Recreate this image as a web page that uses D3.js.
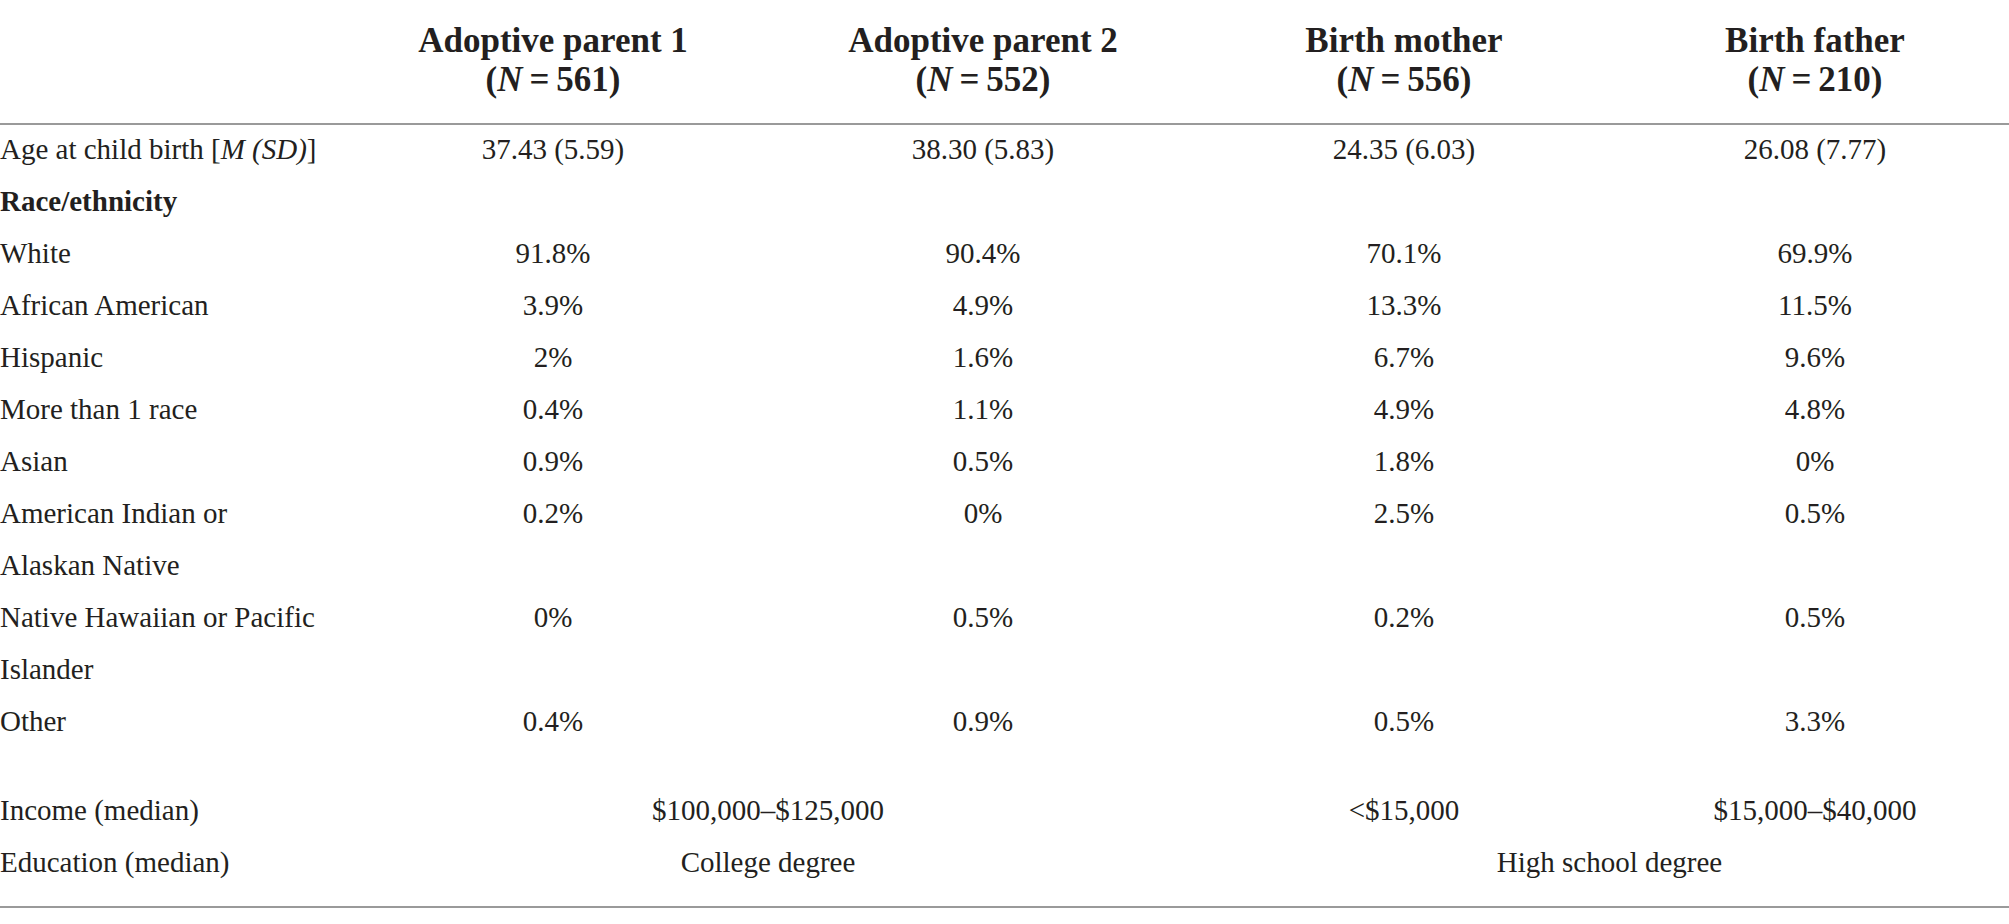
<!DOCTYPE html>
<html>
<head>
<meta charset="utf-8">
<script src="https://cdn.jsdelivr.net/npm/d3@7"></script>
<style>
  body { margin: 0; background: #fff; }
  text { font-family: "Liberation Serif", "Times New Roman", serif; fill: #231f20; }
</style>
</head>
<body>
<div id="table-div"></div>
<script>
// column headers and sample sizes
const groups = ["Adoptive parent 1", "Adoptive parent 2", "Birth mother", "Birth father"];
const sampleSizes = [561, 552, 556, 210];

// row labels (second line of wrapped labels kept as its own row like the source)
const rowLabels = ["Age at child birth", "Race/ethnicity", "White", "African American", "Hispanic",
    "More than 1 race", "Asian", "American Indian or", "Alaskan Native",
    "Native Hawaiian or Pacific", "Islander", "Other"];

// cell values per group, same order as rowLabels ("" = empty)
const adoptive1 = ["37.43 (5.59)", "", "91.8%", "3.9%", "2%", "0.4%", "0.9%", "0.2%", "", "0%", "", "0.4%"];
const adoptive2 = ["38.30 (5.83)", "", "90.4%", "4.9%", "1.6%", "1.1%", "0.5%", "0%", "", "0.5%", "", "0.9%"];
const birthMother = ["24.35 (6.03)", "", "70.1%", "13.3%", "6.7%", "4.9%", "1.8%", "2.5%", "", "0.2%", "", "0.5%"];
const birthFather = ["26.08 (7.77)", "", "69.9%", "11.5%", "9.6%", "4.8%", "0%", "0.5%", "", "0.5%", "", "3.3%"];

// medians, some spanning two groups
const incomeCells = [
    { text: "$100,000\u2013$125,000", span: ["Adoptive parent 1", "Adoptive parent 2"] },
    { text: "<$15,000", span: ["Birth mother"] },
    { text: "$15,000\u2013$40,000", span: ["Birth father"] }
];
const educationCells = [
    { text: "College degree", span: ["Adoptive parent 1", "Adoptive parent 2"] },
    { text: "High school degree", span: ["Birth mother", "Birth father"] }
];

const svgWidth = 2009;
const svgHeight = 924;

let svg = d3.select("#table-div").append("svg")
    .attr("width", svgWidth)
    .attr("height", svgHeight);

// column centres
let x = d3.scaleOrdinal()
    .domain(groups)
    .range([553, 983, 1404, 1815]);

// row baselines
let y = d3.scaleLinear()
    .domain([0, rowLabels.length - 1])
    .range([159, 159 + 52 * (rowLabels.length - 1)]);

const bodySize = "29px";
const headSize = "35px";

// header
let head = svg.append("g").attr("class", "header");
let heads = head.selectAll("g")
    .data(groups)
    .enter()
    .append("g");
heads.append("text")
    .attr("x", d => x(d))
    .attr("y", 52)
    .attr("text-anchor", "middle")
    .style("font-size", headSize)
    .style("font-weight", "bold")
    .text(d => d);
let nLine = heads.append("text")
    .attr("x", d => x(d))
    .attr("y", 91)
    .attr("text-anchor", "middle")
    .style("font-size", headSize)
    .style("font-weight", "bold");
nLine.append("tspan").text("(");
nLine.append("tspan").style("font-style", "italic").text("N");
nLine.append("tspan").text((d, i) => "\u2009=\u2009" + sampleSizes[i] + ")");

// rules
svg.append("line")
    .attr("x1", 0).attr("x2", svgWidth)
    .attr("y1", 124).attr("y2", 124)
    .style("stroke", "#9a9a9a").style("stroke-width", 2);
svg.append("line")
    .attr("x1", 0).attr("x2", svgWidth)
    .attr("y1", 907).attr("y2", 907)
    .style("stroke", "#9a9a9a").style("stroke-width", 2);

// row labels
let labels = svg.append("g").attr("class", "labels")
    .selectAll("text")
    .data(rowLabels)
    .enter()
    .append("text")
    .attr("x", 0)
    .attr("y", (d, i) => y(i))
    .style("font-size", bodySize)
    .style("font-weight", (d, i) => i === 1 ? "bold" : "normal")
    .text(d => d);
// Age label gets the italic M (SD) suffix
labels.filter((d, i) => i === 0).each(function() {
    let t = d3.select(this);
    t.append("tspan").text(" [");
    t.append("tspan").style("font-style", "italic").text("M (SD)");
    t.append("tspan").text("]");
});

// body cells
let columns = [adoptive1, adoptive2, birthMother, birthFather];
columns.forEach((values, c) => {
    svg.append("g").attr("class", "col")
        .selectAll("text")
        .data(values)
        .enter()
        .append("text")
        .attr("x", x(groups[c]))
        .attr("y", (d, i) => y(i))
        .attr("text-anchor", "middle")
        .style("font-size", bodySize)
        .text(d => d);
});

// median rows
const medianRows = [
    { label: "Income (median)", cells: incomeCells, y: 820 },
    { label: "Education (median)", cells: educationCells, y: 872 }
];
medianRows.forEach(row => {
    svg.append("text")
        .attr("x", 0)
        .attr("y", row.y)
        .style("font-size", bodySize)
        .text(row.label);
    svg.append("g")
        .selectAll("text")
        .data(row.cells)
        .enter()
        .append("text")
        .attr("x", d => d3.mean(d.span, g => x(g)))
        .attr("y", row.y)
        .attr("text-anchor", "middle")
        .style("font-size", bodySize)
        .text(d => d.text);
});
</script>
</body>
</html>
